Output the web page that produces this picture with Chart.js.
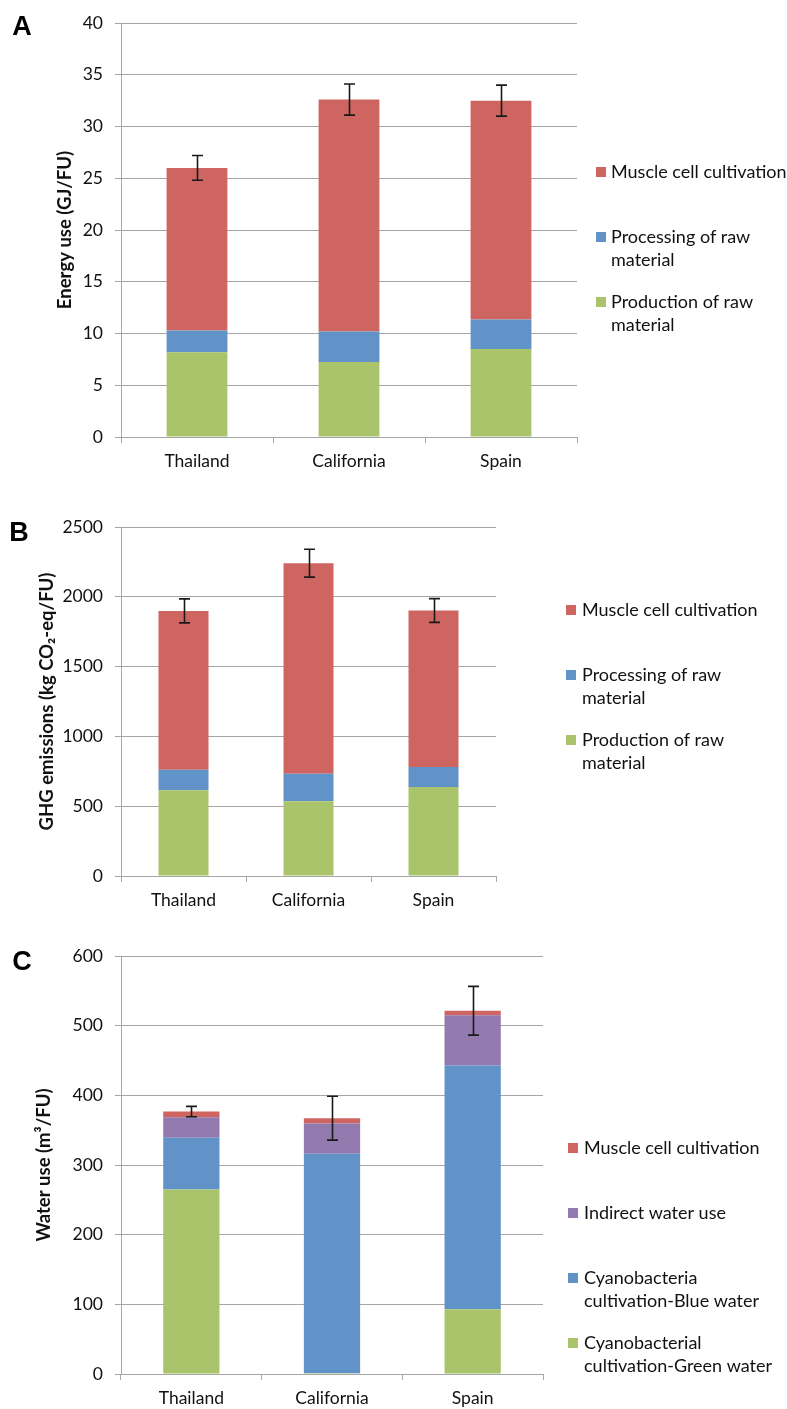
<!DOCTYPE html>
<html>
<head>
<meta charset="utf-8">
<script src="https://cdn.jsdelivr.net/npm/chart.js@4"></script>
<style>
  body { margin: 0; background: #fff; width: 787px; height: 1409px; overflow: hidden; }
  canvas { position: absolute; left: 0; }
</style>
</head>
<body>
<canvas id="chartA" width="787" height="490" style="top:0px"></canvas>
<canvas id="chartB" width="787" height="430" style="top:490px"></canvas>
<canvas id="chartC" width="787" height="489" style="top:920px"></canvas>
<script>
const countries = ["Thailand", "California", "Spain"];

// A - energy use (GJ/FU)
const energyProduction = [8.2, 7.25, 8.5];
const energyProcessing = [2.1, 2.95, 2.85];
const energyMuscle = [15.7, 22.4, 21.15];
const energyError = [1.2, 1.5, 1.5];

// B - GHG emissions (kg CO2-eq/FU)
const ghgProduction = [615, 535, 637];
const ghgProcessing = [146, 197, 143];
const ghgMuscle = [1138, 1509, 1122];
const ghgError = [86, 100, 85];

// C - water use (m3/FU)
const waterGreen = [265, 1, 93];
const waterBlue = [74, 315, 350];
const waterIndirect = [29.6, 43.6, 71.8];
const waterMuscle = [8.1, 7.6, 6.6];
const waterError = [7.5, 31.5, 35];

const RED = "#cf6560";
const BLUE = "#6193c8";
const GREEN = "#aac46b";
const PURPLE = "#9279ae";
const GRID = "#a6a6a6";
const TEXT = "#111";
const FONT = "Lato";

function wrapText(ctx, text, maxWidth) {
    var words = text.split(" ");
    var lines = [];
    var line = "";
    words.forEach(w => {
        var test = line ? line + " " + w : w;
        if (line && ctx.measureText(test).width > maxWidth) {
            lines.push(line);
            line = w;
        } else {
            line = test;
        }
    });
    lines.push(line);
    return lines;
}

const errorBars = {
    id: "errorBars",
    afterDatasetsDraw(chart, args, opts) {
        const xs = chart.scales.x, ys = chart.scales.y, ctx = chart.ctx;
        ctx.save();
        ctx.strokeStyle = "#1a1a1a";
        ctx.lineWidth = 1.6;
        chart.data.labels.forEach((lab, i) => {
            const total = chart.data.datasets.reduce((s, ds) => s + ds.data[i], 0);
            const px = Math.round(xs.getPixelForValue(i)) + 0.5;
            const top = ys.getPixelForValue(total + opts.errors[i]);
            const bot = ys.getPixelForValue(total - opts.errors[i]);
            ctx.beginPath();
            ctx.moveTo(px, top); ctx.lineTo(px, bot);
            ctx.moveTo(px - 5.5, top); ctx.lineTo(px + 5.5, top);
            ctx.moveTo(px - 5.5, bot); ctx.lineTo(px + 5.5, bot);
            ctx.stroke();
        });
        ctx.restore();
    }
};

const sideLegend = {
    id: "sideLegend",
    afterDraw(chart, args, opts) {
        const ctx = chart.ctx;
        ctx.save();
        ctx.font = "18px " + FONT;
        ctx.textBaseline = "middle";
        var y = opts.y;
        chart.data.datasets.slice().reverse().forEach(ds => {
            ctx.fillStyle = ds.backgroundColor;
            ctx.fillRect(opts.x, y - 5, 10, 10);
            ctx.fillStyle = TEXT;
            wrapText(ctx, ds.label, opts.maxWidth).forEach((l, k) => {
                ctx.fillText(l, opts.textX, y + k * 23);
            });
            y += 65;
        });
        ctx.restore();
    }
};

const panelLetter = {
    id: "panelLetter",
    afterDraw(chart, args, opts) {
        const ctx = chart.ctx;
        ctx.save();
        ctx.font = "bold 27px 'Liberation Sans'";
        ctx.fillStyle = "#000";
        ctx.textAlign = "center";
        ctx.textBaseline = "middle";
        ctx.fillText(opts.text, opts.x, opts.y);
        ctx.restore();
    }
};

function makeChart(id, cfg) {
    return new Chart(document.getElementById(id), {
        type: "bar",
        data: { labels: countries, datasets: cfg.datasets },
        plugins: [errorBars, sideLegend, panelLetter],
        options: {
            responsive: false,
            animation: false,
            layout: { padding: { left: 0, top: cfg.top, right: cfg.right, bottom: 0 } },
            datasets: { bar: { barPercentage: 0.4, categoryPercentage: 1, borderWidth: 0 } },
            plugins: {
                legend: { display: false },
                tooltip: { enabled: false },
                errorBars: { errors: cfg.errors },
                sideLegend: cfg.legend,
                panelLetter: cfg.letter
            },
            scales: {
                x: {
                    stacked: true,
                    grid: { drawOnChartArea: false, offset: true, tickLength: 6, color: GRID },
                    border: { color: GRID },
                    ticks: { color: TEXT, font: { family: FONT, size: 17.5 }, padding: 8 },
                    afterFit: s => { s.height = cfg.xHeight; }
                },
                y: {
                    stacked: true,
                    min: 0,
                    max: cfg.max,
                    ticks: {
                        stepSize: cfg.step,
                        color: TEXT,
                        font: { family: FONT, size: 17.5 },
                        padding: 12,
                        format: { useGrouping: false }
                    },
                    grid: { color: GRID, tickLength: 6 },
                    border: { color: GRID },
                    title: {
                        display: true,
                        text: cfg.title,
                        color: TEXT,
                        font: { family: FONT, size: 18.5, weight: "bold" },
                        padding: { top: cfg.titlePad, bottom: 0 }
                    },
                    afterFit: s => { s.width = 121; }
                }
            }
        }
    });
}

makeChart("chartA", {
    datasets: [
        { label: "Production of raw material", data: energyProduction, backgroundColor: GREEN },
        { label: "Processing of raw material", data: energyProcessing, backgroundColor: BLUE },
        { label: "Muscle cell cultivation", data: energyMuscle, backgroundColor: RED }
    ],
    errors: energyError,
    max: 40, step: 5,
    title: "Energy use (GJ/FU)", titlePad: 54,
    top: 23, right: 210, xHeight: 53,
    legend: { x: 596, textX: 611, y: 172, maxWidth: 190 },
    letter: { text: "A", x: 22, y: 28 }
});

makeChart("chartB", {
    datasets: [
        { label: "Production of raw material", data: ghgProduction, backgroundColor: GREEN },
        { label: "Processing of raw material", data: ghgProcessing, backgroundColor: BLUE },
        { label: "Muscle cell cultivation", data: ghgMuscle, backgroundColor: RED }
    ],
    errors: ghgError,
    max: 2500, step: 500,
    title: "GHG emissions (kg CO\u2082-eq/FU)", titlePad: 36,
    top: 37, right: 291, xHeight: 44,
    legend: { x: 566, textX: 582, y: 120, maxWidth: 190 },
    letter: { text: "B", x: 19, y: 44 }
});

makeChart("chartC", {
    datasets: [
        { label: "Cyanobacterial cultivation-Green water", data: waterGreen, backgroundColor: GREEN },
        { label: "Cyanobacteria cultivation-Blue water", data: waterBlue, backgroundColor: BLUE },
        { label: "Indirect water use", data: waterIndirect, backgroundColor: PURPLE },
        { label: "Muscle cell cultivation", data: waterMuscle, backgroundColor: RED }
    ],
    errors: waterError,
    max: 600, step: 100,
    title: "Water use (m\u00b3/FU)", titlePad: 33,
    top: 36, right: 244, xHeight: 35,
    legend: { x: 568, textX: 584, y: 228, maxWidth: 195 },
    letter: { text: "C", x: 22, y: 43 }
});
</script>
</body>
</html>
